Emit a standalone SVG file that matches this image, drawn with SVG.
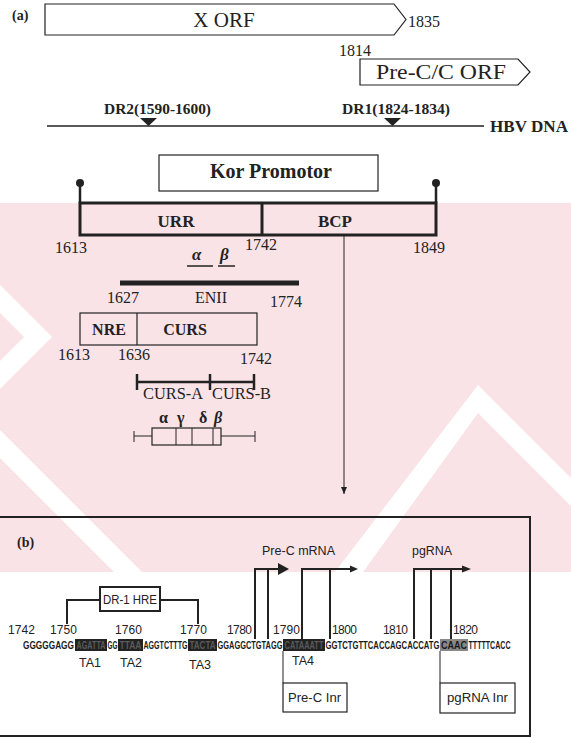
<svg xmlns="http://www.w3.org/2000/svg" width="571" height="738" viewBox="0 0 571 738">
<style>
.serif{font-family:"Liberation Serif","Times New Roman",serif;fill:#222}
.b{font-weight:bold}
.sans{font-family:"Liberation Sans",Arial,sans-serif;fill:#222}
.ln{stroke:#222;fill:none}
.box{stroke:#222;fill:none;stroke-width:1.2}
.seq{font-family:"Liberation Sans",Arial,sans-serif;font-weight:bold;font-size:7px;fill:#1a1a1a}
.dk{fill:#5a5a5a}
</style>
<defs>
<marker id="ah" markerWidth="8" markerHeight="8" refX="7" refY="4" orient="auto" markerUnits="userSpaceOnUse"><path d="M0,1 L7,4 L0,7 Z" fill="#222"/></marker>
</defs>
<rect width="571" height="738" fill="#fff"/>
<g id="watermark">
<rect x="0" y="203" width="571" height="369" fill="#fae3e7"/>
<polygon points="478,385 571,478 571,506 478,413 363,572 335,572" fill="#fff"/>
<polygon points="0,285 52,337 0,389 0,361 24,337 0,313" fill="#fff"/>
<polygon points="0,430 0,458 114,572 142,572" fill="#fff"/>
</g>
<text class="serif b" x="12" y="20" font-size="14">(a)</text>
<g id="xorf">
<polygon class="box" points="45,4 394,4 406,19.5 394,35 45,35"/>
<text class="serif" x="224" y="27" font-size="21" text-anchor="middle">X ORF</text>
<text class="serif" x="408" y="27" font-size="16">1835</text>
</g>
<g id="precorf">
<text class="serif" x="339" y="56" font-size="16">1814</text>
<polygon class="box" points="360,59 518,59 530,72 518,85 360,85"/>
<text class="serif" x="376" y="79" font-size="21" textLength="130" lengthAdjust="spacingAndGlyphs">Pre-C/C ORF</text>
</g>
<g id="hbvdna">
<text class="serif b" x="104" y="114" font-size="15" textLength="107" lengthAdjust="spacingAndGlyphs">DR2(1590-1600)</text>
<text class="serif b" x="342" y="114" font-size="15" textLength="108" lengthAdjust="spacingAndGlyphs">DR1(1824-1834)</text>
<line class="ln" x1="47" y1="126" x2="484" y2="126" stroke-width="1.5"/>
<polygon points="140,118 157,118 148.5,126" fill="#222"/>
<polygon points="384,118 401,118 392.5,126" fill="#222"/>
<text class="serif b" x="490" y="132" font-size="16" textLength="78" lengthAdjust="spacingAndGlyphs">HBV DNA</text>
</g>
<g id="kor">
<rect class="box" x="159" y="155" width="219" height="36" fill="#fff"/>
<text class="serif b" x="271" y="178" font-size="20" text-anchor="middle">Kor Promotor</text>
</g>
<g id="urrbcp">
<line class="ln" x1="80" y1="183" x2="80" y2="203" stroke-width="2.5"/>
<line class="ln" x1="436" y1="183" x2="436" y2="203" stroke-width="2.5"/>
<circle cx="80" cy="183" r="4" fill="#222"/>
<circle cx="436" cy="183" r="4" fill="#222"/>
<rect x="80" y="203" width="356" height="32" fill="none" stroke="#222" stroke-width="3"/>
<line class="ln" x1="262" y1="203" x2="262" y2="235" stroke-width="3"/>
<text class="serif b" x="176" y="227" font-size="17" text-anchor="middle">URR</text>
<text class="serif b" x="335" y="227" font-size="17" text-anchor="middle">BCP</text>
<text class="serif" x="55" y="253" font-size="16">1613</text>
<text class="serif" x="245" y="250" font-size="16">1742</text>
<text class="serif" x="413" y="253" font-size="16">1849</text>
</g>
<g id="ab">
<text class="serif b" x="192" y="260" font-size="17" font-style="italic">α</text>
<text class="serif b" x="220" y="260" font-size="17" font-style="italic">β</text>
<line class="ln" x1="187" y1="266" x2="213" y2="266" stroke-width="1.5"/>
<line class="ln" x1="218" y1="266" x2="235" y2="266" stroke-width="1.5"/>
</g>
<g id="enii">
<line class="ln" x1="120" y1="283" x2="299" y2="283" stroke-width="5"/>
<text class="serif" x="107" y="303" font-size="16">1627</text>
<text class="serif" x="195" y="303" font-size="16">ENII</text>
<text class="serif" x="270" y="307" font-size="16">1774</text>
</g>
<g id="nrecurs">
<rect class="box" x="80" y="313" width="177" height="32"/>
<line class="ln" x1="137" y1="313" x2="137" y2="345" stroke-width="1.2"/>
<text class="serif b" x="109" y="335" font-size="16" text-anchor="middle">NRE</text>
<text class="serif b" x="185" y="335" font-size="16" text-anchor="middle">CURS</text>
<text class="serif" x="58" y="360" font-size="16">1613</text>
<text class="serif" x="118" y="360" font-size="16">1636</text>
<text class="serif" x="240" y="364" font-size="16">1742</text>
</g>
<g id="cursab">
<line class="ln" x1="137" y1="382" x2="254" y2="382" stroke-width="2.5"/>
<line class="ln" x1="137" y1="374" x2="137" y2="390" stroke-width="2.5"/>
<line class="ln" x1="210" y1="374" x2="210" y2="390" stroke-width="2.5"/>
<line class="ln" x1="254" y1="374" x2="254" y2="390" stroke-width="2.5"/>
<text class="serif" x="143" y="399" font-size="16" textLength="60" lengthAdjust="spacingAndGlyphs">CURS-A</text>
<text class="serif" x="212" y="399" font-size="16" textLength="59" lengthAdjust="spacingAndGlyphs">CURS-B</text>
</g>
<g id="sites">
<text class="serif b" x="159" y="423" font-size="16">α</text>
<text class="serif b" x="177" y="423" font-size="16">γ</text>
<text class="serif b" x="199" y="423" font-size="16">δ</text>
<text class="serif b" x="214" y="423" font-size="16" font-style="italic">β</text>
<rect class="box" x="152" y="428" width="69" height="17" stroke-width="1"/>
<path class="ln" d="M176,428V445M192,428V445M213,428V445M134,436H152M221,436H255M134,431V442M255,431V442" stroke-width="1"/>
</g>
<g id="connectors">
<line class="ln" x1="344" y1="235" x2="344" y2="494" stroke-width="1" marker-end="url(#ah)"/>
</g>
<g id="panelb">
<path d="M0,517H530V736H0" fill="none" stroke="#222" stroke-width="2"/>
<text class="serif b" x="17" y="547" font-size="14">(b)</text>
</g>
<g id="transcripts">
<text class="sans" x="262" y="555" font-size="12.5" textLength="73" lengthAdjust="spacingAndGlyphs">Pre-C mRNA</text>
<text class="sans" x="412" y="555" font-size="12.5" textLength="40" lengthAdjust="spacingAndGlyphs">pgRNA</text>
<path class="ln" d="M255,639V569H280M268,569V639" stroke-width="2"/>
<polygon points="278,563 289,569 278,575" fill="#222"/>
<path class="ln" d="M302,639V569H352M330,569V639" stroke-width="2"/>
<polygon points="350,565.5 358,569 350,572.5" fill="#222"/>
<path class="ln" d="M414,639V569H464M431,569V639M451,569V639" stroke-width="2"/>
<polygon points="462,565.5 471,569 462,572.5" fill="#222"/>
</g>
<g id="drhre">
<rect x="100" y="587" width="60" height="24" fill="#fff" stroke="#222" stroke-width="2"/>
<text class="sans" x="130" y="604" font-size="12.5" text-anchor="middle" textLength="54" lengthAdjust="spacingAndGlyphs">DR-1 HRE</text>
<path class="ln" d="M67,624V600H100M160,600H198V624" stroke-width="2"/>
</g>
<g id="numbers" class="sans" font-size="12">
<text class="sans" x="8" y="634" textLength="27">1742</text>
<text class="sans" x="50" y="634" textLength="27">1750</text>
<text class="sans" x="115" y="634" textLength="27">1760</text>
<text class="sans" x="180" y="634" textLength="27">1770</text>
<text class="sans" x="227" y="634" textLength="25">1780</text>
<text class="sans" x="273" y="634" textLength="27">1790</text>
<text class="sans" x="332" y="634" textLength="25">1800</text>
<text class="sans" x="383" y="634" textLength="25">1810</text>
<text class="sans" x="453" y="634" textLength="25">1820</text>
</g>
<g id="sequence">
<rect x="75" y="639" width="32" height="12" fill="#222"/>
<rect x="118" y="639" width="25" height="12" fill="#222"/>
<rect x="188" y="639" width="29" height="12" fill="#222"/>
<rect x="283" y="639" width="42" height="12" fill="#222"/>
<rect x="440" y="639" width="28" height="12" fill="#888"/>
<g transform="translate(0,649.5) scale(1,1.5) translate(0,-649.5)">
<text class="seq" x="23" y="649.5" textLength="51" lengthAdjust="spacingAndGlyphs">GGGGGAGG</text>
<text class="seq dk" x="76.5" y="649.5" textLength="29" lengthAdjust="spacingAndGlyphs">AGATTA</text>
<text class="seq" x="107.5" y="649.5" textLength="10" lengthAdjust="spacingAndGlyphs">GG</text>
<text class="seq dk" x="119.5" y="649.5" textLength="22" lengthAdjust="spacingAndGlyphs">TTAA</text>
<text class="seq" x="143.5" y="649.5" textLength="44" lengthAdjust="spacingAndGlyphs">AGGTCTTTG</text>
<text class="seq dk" x="189.5" y="649.5" textLength="26" lengthAdjust="spacingAndGlyphs">TACTA</text>
<text class="seq" x="217.5" y="649.5" textLength="65" lengthAdjust="spacingAndGlyphs">GGAGGCTGTAGG</text>
<text class="seq dk" x="284.5" y="649.5" textLength="39" lengthAdjust="spacingAndGlyphs">CATAAATT</text>
<text class="seq" x="325.5" y="649.5" textLength="114" lengthAdjust="spacingAndGlyphs">GGTCTGTTCACCAGCACCATG</text>
<text class="seq" x="441" y="649.5" textLength="26" lengthAdjust="spacingAndGlyphs">CAAC</text>
<text class="seq" x="468.5" y="649.5" textLength="42" lengthAdjust="spacingAndGlyphs">TTTTTCACC</text>
</g>
</g>
<g id="talabels" class="sans">
<text class="sans" x="79" y="667" font-size="12.5">TA1</text>
<text class="sans" x="120" y="667" font-size="12.5">TA2</text>
<text class="sans" x="189" y="669" font-size="12.5">TA3</text>
<text class="sans" x="292" y="665" font-size="12.5">TA4</text>
</g>
<g id="inr">
<line class="ln" x1="283" y1="651" x2="283" y2="683" stroke-width="1"/>
<rect class="box" x="283" y="683" width="64" height="29"/>
<text class="sans" x="288" y="702" font-size="12.5" textLength="53" lengthAdjust="spacingAndGlyphs">Pre-C Inr</text>
<line class="ln" x1="440" y1="651" x2="440" y2="683" stroke-width="1"/>
<rect class="box" x="440" y="683" width="75" height="30"/>
<text class="sans" x="447" y="702" font-size="12.5" textLength="61" lengthAdjust="spacingAndGlyphs">pgRNA Inr</text>
</g>
</svg>
